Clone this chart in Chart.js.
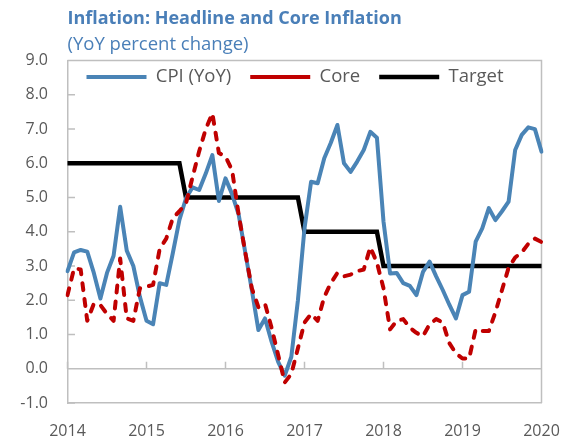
<!DOCTYPE html>
<html><head><meta charset="utf-8">
<script src="https://cdn.jsdelivr.net/npm/chart.js@4"></script>
<style>html,body{margin:0;padding:0;background:#fff}#wrap{width:566px;height:445px;position:relative}</style>
</head><body><div id="wrap"><canvas id="c"></canvas></div>
<script>
const titleText = 'Inflation: Headline and Core Inflation';
const subtitleText = '(YoY percent change)';
const seriesNames = ['CPI (YoY)', 'Core', 'Target'];
const years = ['2014', '2015', '2016', '2017', '2018', '2019', '2020'];
const months = [];
years.forEach((yr, k) => {
  for (let m = 1; m <= 12; m++) {
    if (k === years.length - 1 && m > 1) break;
    months.push(yr + '-' + String(m).padStart(2, '0'));
  }
});
const cpi = [2.85,3.4,3.47,3.42,2.8,2.05,2.8,3.3,4.73,3.45,
  3.0,2.1,1.4,1.3,2.5,2.45,3.38,4.35,4.98,5.3,
  5.22,5.7,6.24,4.9,5.56,5.1,4.5,3.4,2.3,1.13,
  1.47,0.79,0.2,-0.2,0.35,2.0,4.1,5.46,5.42,6.15,
  6.6,7.12,6.0,5.75,6.05,6.39,6.92,6.75,4.3,2.78,
  2.8,2.5,2.42,2.15,2.83,3.13,2.7,2.3,1.87,1.47,
  2.15,2.25,3.71,4.1,4.69,4.34,4.6,4.88,6.39,6.83,
  7.05,7.0,6.34];
const core = [2.15,2.93,2.9,1.4,1.9,1.86,1.6,1.4,3.22,1.47,
  1.4,2.35,2.4,2.45,3.5,3.8,4.4,4.6,4.83,5.6,
  6.35,7.0,7.46,6.3,6.2,5.8,4.5,3.4,2.35,1.8,
  1.9,1.2,0.4,-0.4,-0.15,0.6,1.35,1.6,1.4,2.1,
  2.5,2.8,2.7,2.75,2.85,2.9,3.55,3.1,2.35,1.15,
  1.4,1.45,1.2,1.05,0.95,1.3,1.45,1.35,0.75,0.45,
  0.3,0.3,1.15,1.1,1.1,1.65,2.3,2.95,3.25,3.4,
  3.65,3.8,3.7];
const target = [6,6,6,6,6,6,6,6,6,6,6,6,6,6,6,6,6,6,
  5,5,5,5,5,5,5,5,5,5,5,5,5,5,5,5,5,5,
  4,4,4,4,4,4,4,4,4,4,4,4,
  3,3,3,3,3,3,3,3,3,3,3,3,3,3,3,3,3,3,3,3,3,3,3,3,3];
const yMin = -1, yMax = 9;

const FONT = '"Open Sans", "DejaVu Sans", sans-serif';
const GRAY = '#bfbfbf';
const LEGEND_SIZE = 18.5;

const framePlugin = {
  id: 'frame',
  beforeUpdate(chart) {
    const lg = chart.legend;
    if (lg && !lg._patched) {
      const f = lg.fit;
      lg.fit = function () { f.call(this); this.height = 0; };
      lg._patched = true;
    }
  },
  afterLayout(chart) {
    const lg = chart.legend;
    if (lg) { lg.top = chart.chartArea.top - 11.85; lg.bottom = lg.top + 45; lg.height = 45; }
  },
  beforeDatasetsDraw(chart) {
    const {ctx, chartArea: a, scales: {x, y}} = chart;
    ctx.save();
    ctx.strokeStyle = GRAY;
    ctx.lineWidth = 1.5;
    const y0 = y.getPixelForValue(0);
    ctx.beginPath();
    ctx.moveTo(a.left, y0); ctx.lineTo(a.right, y0);
    months.forEach((m, i) => {
      if (m.endsWith('-01')) {
        const px = x.getPixelForValue(i);
        ctx.moveTo(px, y0); ctx.lineTo(px, y0 - 7);
      }
    });
    y.ticks.forEach(t => {
      const py = y.getPixelForValue(t.value);
      ctx.moveTo(a.left, py); ctx.lineTo(a.left + 7.5, py);
    });
    ctx.moveTo(a.left, a.top); ctx.lineTo(a.right, a.top); ctx.lineTo(a.right, a.bottom);
    ctx.stroke();
    ctx.restore();
  }
};

new Chart(document.getElementById('c'), {
  type: 'line',
  data: {
    labels: months,
    datasets: [
      {label: seriesNames[0], data: cpi, borderColor: '#4a84b6', backgroundColor: '#4a84b6',
       borderWidth: 4, pointRadius: 0, tension: 0, borderJoinStyle: 'round', borderCapStyle: 'round', order: 2},
      {label: seriesNames[1], data: core, borderColor: '#c00000', backgroundColor: '#c00000',
       borderWidth: 4, borderDash: [7, 9], borderCapStyle: 'round', borderJoinStyle: 'round', pointRadius: 0, tension: 0, order: 1},
      {label: seriesNames[2], data: target, borderColor: '#000000', backgroundColor: '#000000',
       borderWidth: 4.5, pointRadius: 0, tension: 0, borderJoinStyle: 'miter', order: 3}
    ]
  },
  options: {
    responsive: true,
    maintainAspectRatio: false,
    animation: false,
    layout: {padding: {left: 20, right: 24.5, top: 0, bottom: 3.3}},
    plugins: {
      tooltip: {enabled: false},
      title: {display: true, text: titleText, align: 'start', fullSize: false, color: '#4a7fb8',
        font: {family: FONT, size: 18, weight: 'bold', lineHeight: 1.2}, padding: {top: 8, bottom: 2.2}},
      subtitle: {display: true, text: subtitleText, align: 'start', fullSize: false, color: '#4a7fb8',
        font: {family: FONT, size: 18.5, weight: 'normal', lineHeight: 1.2}, padding: {top: 2.1, bottom: 4.5}},
      legend: {
        display: true, position: 'top', align: 'start', fullSize: false,
        labels: {
          usePointStyle: true, pointStyle: 'line', pointStyleWidth: 60, boxHeight: LEGEND_SIZE,
          padding: 19, color: '#595959', font: {family: FONT, size: LEGEND_SIZE},
          sort: (a, b) => a.datasetIndex - b.datasetIndex
        }
      }
    },
    scales: {
      x: {
        type: 'category',
        offset: false,
        afterFit(scale) { scale.height = 38.7; },
        grid: {display: false, drawTicks: false},
        border: {display: true, color: GRAY, width: 1.5},
        ticks: {
          autoSkip: false, maxRotation: 0, minRotation: 0, padding: 0,
          color: '#595959', font: {family: FONT, size: 16, lineHeight: 3.6},
          callback: function (v, i) { const l = months[i]; return l.endsWith('-01') ? l.slice(0, 4) : ''; }
        }
      },
      y: {
        min: yMin, max: yMax,
        afterFit(scale) { scale.width = 47.5; },
        grid: {drawOnChartArea: false, drawTicks: false},
        border: {display: true, color: GRAY, width: 1.5},
        ticks: {stepSize: 1, padding: 19.5, color: '#595959', font: {family: FONT, size: 16},
          callback: v => Number(v).toFixed(1)}
      }
    }
  },
  plugins: [framePlugin]
});
</script></body></html>
